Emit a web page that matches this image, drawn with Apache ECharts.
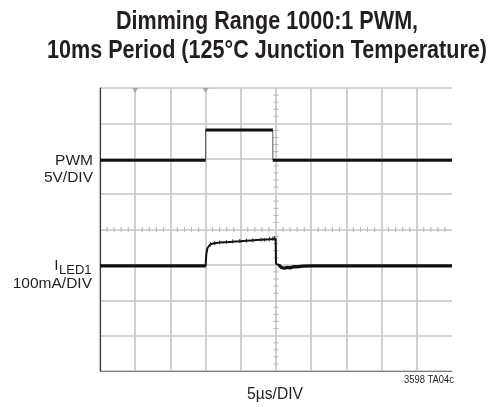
<!DOCTYPE html>
<html>
<head>
<meta charset="utf-8">
<script src="https://cdn.jsdelivr.net/npm/echarts@6/dist/echarts.min.js"></script>
<style>
  html, body { margin: 0; padding: 0; background: #ffffff; }
  #chart { width: 494px; height: 407px; }
</style>
</head>
<body>
<div id="chart"></div>
<script>
// Scope screen: 10 horizontal divisions (5µs/DIV), 8 vertical divisions.
const timeDivs = [0, 10];
const levelDivs = [0, 8];

// PWM trace, in divisions [time, level]
const pwmTrace = [
  [0, 5.96], [3.0, 5.96], [3.0, 6.81], [4.91, 6.81], [4.91, 5.96], [10, 5.96]
];

// LED current trace, in divisions [time, level]
const iledTrace = [
  [0, 2.97], [3.0, 2.97], [3.02, 3.3], [3.05, 3.47], [3.1, 3.54], [3.16, 3.59],
  [3.25, 3.61], [3.4, 3.63], [3.55, 3.64], [3.7, 3.65], [3.85, 3.66], [4.0, 3.67],
  [4.15, 3.68], [4.3, 3.69], [4.45, 3.70], [4.6, 3.71], [4.75, 3.72], [4.9, 3.73],
  [4.99, 3.74], [5.0, 3.03], [5.08, 3.0], [5.15, 2.93], [5.24, 2.905], [5.32, 2.93],
  [5.4, 2.915], [5.5, 2.95], [5.6, 2.945], [5.75, 2.965], [6.0, 2.97], [10, 2.97]
];

// Noise spikes on the LED current plateau: [time, low, high]
const iledSpikes = [
  [3.14, 3.52, 3.64], [3.26, 3.56, 3.67], [3.40, 3.58, 3.69], [3.59, 3.60, 3.70],
  [3.77, 3.61, 3.72], [3.97, 3.62, 3.73], [4.16, 3.63, 3.74], [4.34, 3.64, 3.75],
  [4.58, 3.66, 3.77], [4.67, 3.66, 3.76], [4.82, 3.67, 3.79], [4.91, 3.68, 3.80],
  [4.96, 3.68, 3.81]
];

// Trigger position markers along the top edge
const triggerMarks = [[1, 8], [3, 8]];

const titleLines = ['Dimming Range 1000:1 PWM,', '10ms Period (125°C Junction Temperature)'];

const ink = '#231f20';
const gridGray = '#c6c6c6';
const sans = '"Liberation Sans", Arial, sans-serif';

// Condensed headline: squeeze the bold face horizontally to the set width
const measureCtx = document.createElement('canvas').getContext('2d');
function textWidth(str, font) {
  measureCtx.font = font;
  return measureCtx.measureText(str).width;
}
const titleFont = 'bold 25px ' + sans;
const titleScale = 440 / textWidth(titleLines[1], titleFont);
const smallScale = 50 / textWidth('3598 TA04c', '11px ' + sans);

// Break a stepped trace into its flat runs (thick parts of the beam)
function flatRuns(trace) {
  const out = [];
  for (let i = 0; i < trace.length; i++) {
    if (i > 0 && trace[i][0] === trace[i - 1][0]) out.push(null);
    out.push(trace[i]);
  }
  return out;
}

function label(text, x, y, size, align, extra) {
  return Object.assign({
    type: 'text', x: x, y: y,
    style: {
      text: text, fontFamily: sans, fontSize: size, fill: ink,
      align: align, verticalAlign: 'middle'
    }
  }, extra || {});
}

const chart = echarts.init(document.getElementById('chart'), null, { renderer: 'canvas' });

chart.setOption({
  animation: false,
  backgroundColor: '#ffffff',
  grid: { left: 100, right: 42, top: 88, bottom: 36, containLabel: false },
  xAxis: {
    type: 'value',
    min: timeDivs[0], max: timeDivs[1], interval: 1,
    axisLine: { show: true, lineStyle: { color: '#7a7a7a', width: 1 } },
    axisTick: { show: false },
    axisLabel: { show: false },
    splitLine: { show: true, showMaxLine: false, lineStyle: { color: gridGray, width: 1.6 } }
  },
  yAxis: {
    type: 'value',
    min: levelDivs[0], max: levelDivs[1], interval: 1,
    axisLine: { show: true, lineStyle: { color: '#3a3a3a', width: 1.2 } },
    axisTick: { show: false },
    axisLabel: { show: false },
    splitLine: { show: true, lineStyle: { color: gridGray, width: 1.6 } }
  },
  graphic: [
    {
      type: 'text', x: 267, y: 21.7, scaleX: titleScale,
      style: { text: titleLines[0], font: titleFont, fill: ink, align: 'center', verticalAlign: 'middle' }
    },
    {
      type: 'text', x: 267, y: 51.3, scaleX: titleScale,
      style: { text: titleLines[1], font: titleFont, fill: ink, align: 'center', verticalAlign: 'middle' }
    },
    label('PWM', 93, 160.5, 15.5, 'right'),
    label('5V/DIV', 93, 177.5, 15.5, 'right'),
    label('I', 58.5, 265.5, 15.5, 'right'),
    label('LED1', 91.5, 270.5, 13, 'right'),
    label('100mA/DIV', 92, 283.8, 15.5, 'right'),
    label('5µs/DIV', 275, 394.5, 17, 'center', { scaleX: 0.92 }),
    label('3598 TA04c', 454, 380.2, 11, 'right', { scaleX: smallScale })
  ],
  series: [
    {
      // Minor ticks along the centre cross of the graticule
      type: 'custom',
      silent: true,
      z: 1,
      data: [[5, 4]],
      renderItem: function (params, api) {
        const children = [];
        const c = api.coord([5, 4]);
        for (let t = 0; t <= 50; t++) {
          if (t % 5 === 0) continue;
          const p = api.coord([t / 5, 4]);
          children.push({ type: 'line', shape: { x1: p[0], y1: c[1] - 2.5, x2: p[0], y2: c[1] + 2.5 }, style: { stroke: '#b4b4b4', lineWidth: 1 } });
        }
        for (let t = 0; t <= 40; t++) {
          if (t % 5 === 0) continue;
          const p = api.coord([5, t / 5]);
          children.push({ type: 'line', shape: { x1: c[0] - 2.5, y1: p[1], x2: c[0] + 2.5, y2: p[1] }, style: { stroke: '#b4b4b4', lineWidth: 1 } });
        }
        return { type: 'group', children: children };
      }
    },
    {
      type: 'scatter',
      data: triggerMarks,
      symbol: 'triangle',
      symbolRotate: 180,
      symbolSize: [6, 5],
      symbolOffset: [0, 2.5],
      itemStyle: { color: '#9a9a9a' },
      silent: true,
      z: 3
    },
    {
      type: 'line', data: pwmTrace, showSymbol: false, symbol: 'none',
      lineStyle: { color: '#555', width: 1 }, z: 4, silent: true
    },
    {
      type: 'line', data: flatRuns(pwmTrace), showSymbol: false, symbol: 'none', connectNulls: false,
      lineStyle: { color: '#111', width: 3 }, z: 5, silent: true
    },
    {
      type: 'line', data: iledTrace, showSymbol: false, symbol: 'none',
      lineStyle: { color: '#111', width: 2 }, z: 4, silent: true
    },
    {
      type: 'line',
      data: iledTrace.map(p => (p[0] <= 3.0 || p[0] >= 5.08) ? p : null),
      showSymbol: false, symbol: 'none', connectNulls: false,
      lineStyle: { color: '#111', width: 3.2 }, z: 5, silent: true
    },
    {
      type: 'custom',
      data: iledSpikes,
      silent: true,
      z: 5,
      renderItem: function (params, api) {
        const a = api.coord([api.value(0), api.value(1)]);
        const b = api.coord([api.value(0), api.value(2)]);
        return { type: 'line', shape: { x1: a[0], y1: a[1], x2: b[0], y2: b[1] }, style: { stroke: '#222', lineWidth: 1 } };
      }
    }
  ]
});
</script>
</body>
</html>
